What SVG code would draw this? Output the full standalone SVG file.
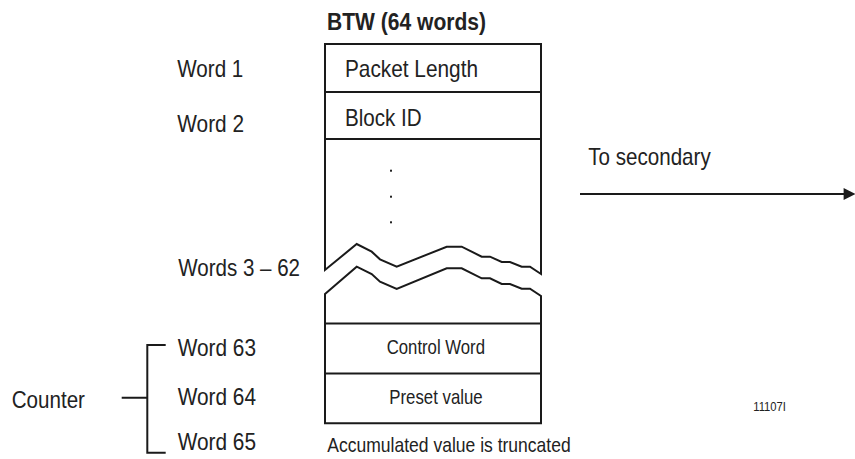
<svg xmlns="http://www.w3.org/2000/svg" width="855" height="459" viewBox="0 0 855 459">
<style>
  text { font-family: "Liberation Sans", Arial, sans-serif; fill: #222; }
  .lbl { font-size: 24px; }
  .sm { font-size: 21px; }
  .ttl { font-size: 23px; font-weight: bold; }
  .tiny { font-size: 13px; }
  .ln { fill: none; stroke: #1a1a1a; stroke-width: 2; stroke-linejoin: miter; }
  .shape { fill: #fff; stroke: #1a1a1a; stroke-width: 2; stroke-linejoin: miter; }
</style>
<defs>
  <marker id="arr" viewBox="0 0 10 10" refX="2" refY="5" markerWidth="7" markerHeight="6" markerUnits="strokeWidth" orient="auto">
    <path d="M0,0 L10,5 L0,10 Z" fill="#1a1a1a"/>
  </marker>
</defs>
<rect width="855" height="459" fill="#fff"/>

<g id="title">
  <text class="ttl" x="327" y="29.5" textLength="159" lengthAdjust="spacingAndGlyphs">BTW (64 words)</text>
</g>

<g id="btw-table">
  <path class="shape" d="M325,270 V44 H541 V274 L530,266.7 L521.7,266.7 L510,262 L501.7,262 L490,256.7 L481.7,256.7 L461.7,246.7 L446.7,246.7 L396.7,266.7 L380,259.3 L371.7,251.7 L356.7,244 Z"/>
  <path class="shape" d="M325,294 L356.7,266.7 L371.7,274 L380,281.7 L396.7,289 L446.7,268.3 L461.7,268.3 L481.7,278.3 L490,278.3 L501.7,284 L510,284 L521.7,288.7 L530,288.7 L541,296 V423.3 H325 Z"/>
</g>

<g id="word1">
  <line class="ln" x1="325" y1="92" x2="541" y2="92"/>
  <text class="lbl" x="177.3" y="77.3" textLength="66" lengthAdjust="spacingAndGlyphs">Word 1</text>
  <text class="lbl" x="345" y="77.3" textLength="133" lengthAdjust="spacingAndGlyphs">Packet Length</text>
</g>

<g id="word2">
  <line class="ln" x1="325" y1="139" x2="541" y2="139"/>
  <text class="lbl" x="177.3" y="131.7" textLength="66.7" lengthAdjust="spacingAndGlyphs">Word 2</text>
  <text class="lbl" x="345" y="126" textLength="76.7" lengthAdjust="spacingAndGlyphs">Block ID</text>
</g>

<g id="words3-62">
  <rect x="390" y="169.7" width="2" height="2" fill="#222"/>
  <rect x="390" y="195.7" width="2" height="2" fill="#222"/>
  <rect x="390" y="221.3" width="2" height="2" fill="#222"/>
  <text class="lbl" x="178.3" y="276" textLength="121.7" lengthAdjust="spacingAndGlyphs">Words 3 – 62</text>
</g>

<g id="word63">
  <line class="ln" x1="325" y1="323.5" x2="541" y2="323.5"/>
  <text class="lbl" x="177.7" y="356" textLength="78.3" lengthAdjust="spacingAndGlyphs">Word 63</text>
  <text class="sm" x="386.7" y="354" textLength="98.3" lengthAdjust="spacingAndGlyphs">Control Word</text>
</g>

<g id="word64">
  <line class="ln" x1="325" y1="373.5" x2="541" y2="373.5"/>
  <text class="lbl" x="177.7" y="405" textLength="78.3" lengthAdjust="spacingAndGlyphs">Word 64</text>
  <text class="sm" x="389.3" y="404" textLength="93.4" lengthAdjust="spacingAndGlyphs">Preset value</text>
</g>

<g id="word65">
  <text class="lbl" x="177.7" y="450" textLength="78.3" lengthAdjust="spacingAndGlyphs">Word 65</text>
  <text class="sm" x="327.3" y="451.7" textLength="243.4" lengthAdjust="spacingAndGlyphs">Accumulated value is truncated</text>
</g>

<g id="counter">
  <text class="lbl" x="11.7" y="408.3" textLength="73.3" lengthAdjust="spacingAndGlyphs">Counter</text>
</g>

<g id="secondary">
  <text class="lbl" x="588.3" y="165" textLength="122.4" lengthAdjust="spacingAndGlyphs">To secondary</text>
</g>

<g id="fig-number">
  <text class="tiny" x="753.3" y="410.7" textLength="32.7" lengthAdjust="spacingAndGlyphs">11107I</text>
</g>

<g id="connectors">
  <line class="ln" x1="580" y1="194" x2="846" y2="194" marker-end="url(#arr)"/>
  <path class="ln" d="M121.7,397.7 H147.3 M165.7,345 H147.3 V452.7 H165.7"/>
</g>
</svg>
